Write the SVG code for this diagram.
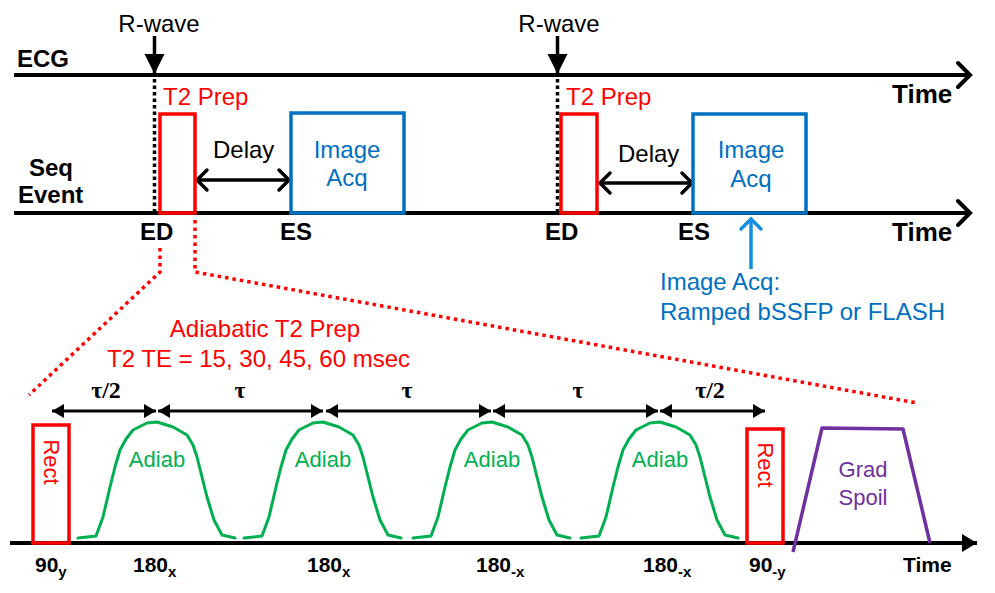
<svg xmlns="http://www.w3.org/2000/svg" width="995" height="593" viewBox="0 0 995 593">
<style>
text{font-family:"Liberation Sans",Arial,sans-serif;}
.b{font-weight:bold;fill:#000;}
.n{fill:#000;}
.red{fill:#FF0000;}
.blue{fill:#0070C0;}
.green{fill:#00B050;}
.purple{fill:#7030A0;}
.tau{font-family:"Liberation Serif","Times New Roman",serif;font-weight:bold;font-size:24px;}
.axis{stroke:#000;stroke-width:4;fill:none;}
.dotk{stroke:#000;stroke-width:3.5;stroke-dasharray:3.5,3;fill:none;}
.dotr{stroke:#FF0000;stroke-width:3.5;stroke-dasharray:3.5,4;fill:none;}
.rrect{stroke:#FF0000;stroke-width:3.5;fill:none;}
.brect{stroke:#0070C0;stroke-width:3.5;fill:none;}
.pulse{stroke:#00B050;stroke-width:3;fill:none;stroke-linejoin:round;stroke-linecap:round;}
</style>
<defs>
<marker id="chev" markerUnits="userSpaceOnUse" markerWidth="30" markerHeight="30" viewBox="-15 -15 30 30" refX="0" refY="0" orient="auto-start-reverse" overflow="visible">
<path d="M-12,-12 L0,0 L-12,12" stroke="#000" stroke-width="4" fill="none" stroke-linecap="round"/>
</marker>
<marker id="chev3" markerUnits="userSpaceOnUse" markerWidth="30" markerHeight="30" viewBox="-15 -15 30 30" refX="0" refY="0" orient="auto-start-reverse" overflow="visible">
<path d="M-10,-10 L0,0 L-10,10" stroke="#000" stroke-width="3.5" fill="none" stroke-linecap="round"/>
</marker>
<marker id="chevb" markerUnits="userSpaceOnUse" markerWidth="30" markerHeight="30" viewBox="-15 -15 30 30" refX="0" refY="0" orient="auto-start-reverse" overflow="visible">
<path d="M-10,-10 L0,0 L-10,10" stroke="#1290DD" stroke-width="3.5" fill="none" stroke-linecap="round"/>
</marker>
<marker id="tri" markerUnits="userSpaceOnUse" markerWidth="30" markerHeight="30" viewBox="-15 -15 30 30" refX="0" refY="0" orient="auto-start-reverse" overflow="visible">
<path d="M-12,-7 L0,0 L-12,7 Z" fill="#000"/>
</marker>
<marker id="tribig" markerUnits="userSpaceOnUse" markerWidth="30" markerHeight="30" viewBox="-15 -15 30 30" refX="0" refY="0" orient="auto" overflow="visible">
<path d="M-20,-10 L0,0 L-20,10 Z" fill="#000"/>
</marker>
<marker id="triax" markerUnits="userSpaceOnUse" markerWidth="30" markerHeight="30" viewBox="-15 -15 30 30" refX="0" refY="0" orient="auto" overflow="visible">
<path d="M-15,-9 L0,0 L-15,9 Z" fill="#000"/>
</marker>
<path id="adiab" class="pulse" d="M-79,116 L-61,114 L-54,95 L-47,65 L-42,45 L-37,28 L-31,17 L-24,8 L-10,1 L0,0 L16,5 L30,13 L36,23 L40,35 L45,55 L50,75 L57,98 L65,113 L78,116"/>
</defs>

<g id="connectors">
<line class="axis" x1="14" y1="75" x2="970" y2="75" marker-end="url(#chev)"/>
<line class="axis" x1="14" y1="213" x2="970" y2="213" marker-end="url(#chev)"/>
<line class="axis" x1="10" y1="543" x2="977" y2="543" marker-end="url(#triax)"/>
<line x1="154.5" y1="36" x2="154.5" y2="74" stroke="#000" stroke-width="3.5" marker-end="url(#tribig)"/>
<line x1="557.5" y1="36" x2="557.5" y2="74" stroke="#000" stroke-width="3.5" marker-end="url(#tribig)"/>
<line class="dotk" x1="154.5" y1="79" x2="154.5" y2="213"/>
<line class="dotk" x1="557.5" y1="79" x2="557.5" y2="213"/>
<line x1="197" y1="180" x2="289" y2="180" stroke="#000" stroke-width="3.5" marker-start="url(#chev3)" marker-end="url(#chev3)"/>
<line x1="600" y1="183" x2="692" y2="183" stroke="#000" stroke-width="3.5" marker-start="url(#chev3)" marker-end="url(#chev3)"/>
<line x1="751" y1="269" x2="751" y2="219" stroke="#1290DD" stroke-width="3.5" marker-end="url(#chevb)"/>
<polyline class="dotr" points="160,248 160,272 29,395"/>
<polyline class="dotr" points="195,220 195,272 917,403"/>
<line x1="52" y1="411" x2="156" y2="411" stroke="#000" stroke-width="3" marker-start="url(#tri)" marker-end="url(#tri)"/>
<line x1="158" y1="411" x2="323" y2="411" stroke="#000" stroke-width="3" marker-start="url(#tri)" marker-end="url(#tri)"/>
<line x1="326" y1="411" x2="491" y2="411" stroke="#000" stroke-width="3" marker-start="url(#tri)" marker-end="url(#tri)"/>
<line x1="493" y1="411" x2="658" y2="411" stroke="#000" stroke-width="3" marker-start="url(#tri)" marker-end="url(#tri)"/>
<line x1="660" y1="411" x2="765" y2="411" stroke="#000" stroke-width="3" marker-start="url(#tri)" marker-end="url(#tri)"/>
</g>

<g id="labels-axes">
<text class="b" x="17" y="67" font-size="24">ECG</text>
<text class="b" x="29" y="176" font-size="24">Seq</text>
<text class="b" x="18" y="203" font-size="24">Event</text>
<text class="b" x="892" y="103" font-size="26">Time</text>
<text class="b" x="892" y="241" font-size="26">Time</text>
<text class="n" x="159" y="32" font-size="24" text-anchor="middle">R-wave</text>
<text class="n" x="559" y="32" font-size="24" text-anchor="middle">R-wave</text>
<text class="b" x="140" y="240" font-size="24">ED</text>
<text class="b" x="280" y="240" font-size="24">ES</text>
<text class="b" x="545" y="240" font-size="24">ED</text>
<text class="b" x="678" y="240" font-size="24">ES</text>
<text class="n" x="213" y="158" font-size="24">Delay</text>
<text class="n" x="618" y="162" font-size="24">Delay</text>
</g>

<g id="t2prep1">
<rect class="rrect" x="160" y="114" width="35" height="99"/>
<text class="red" x="163" y="105" font-size="24">T2 Prep</text>
</g>
<g id="imgacq1">
<rect class="brect" x="291" y="113" width="113" height="100"/>
<text class="blue" x="347" y="158" font-size="24" text-anchor="middle">Image</text>
<text class="blue" x="347" y="186" font-size="24" text-anchor="middle">Acq</text>
</g>
<g id="t2prep2">
<rect class="rrect" x="561" y="114" width="36" height="99"/>
<text class="red" x="566" y="105" font-size="24">T2 Prep</text>
</g>
<g id="imgacq2">
<rect class="brect" x="693" y="114" width="113" height="99"/>
<text class="blue" x="751" y="158" font-size="24" text-anchor="middle">Image</text>
<text class="blue" x="751" y="187" font-size="24" text-anchor="middle">Acq</text>
</g>
<g id="imgacq-note">
<text class="blue" x="660" y="290" font-size="24">Image Acq:</text>
<text class="blue" x="660" y="320" font-size="24">Ramped bSSFP or FLASH</text>
</g>
<g id="adiabatic-title">
<text class="red" x="265" y="337" font-size="24" text-anchor="middle">Adiabatic T2 Prep</text>
<text class="red" x="107" y="367" font-size="24">T2 TE = 15, 30, 45, 60 msec</text>
</g>

<g id="tau-labels">
<text class="tau" x="106" y="398" text-anchor="middle">τ/2</text>
<text class="tau" x="240" y="398" text-anchor="middle">τ</text>
<text class="tau" x="407" y="398" text-anchor="middle">τ</text>
<text class="tau" x="578" y="398" text-anchor="middle">τ</text>
<text class="tau" x="710" y="398" text-anchor="middle">τ/2</text>
</g>

<g id="rect1">
<rect class="rrect" x="33" y="425" width="36" height="118"/>
<text class="red" font-size="22" text-anchor="middle" transform="translate(44,462) rotate(90)">Rect</text>
</g>
<g id="adiab1"><use href="#adiab" x="157" y="422"/><text class="green" x="157" y="467" font-size="22" text-anchor="middle">Adiab</text></g>
<g id="adiab2"><use href="#adiab" x="323" y="422"/><text class="green" x="323" y="467" font-size="22" text-anchor="middle">Adiab</text></g>
<g id="adiab3"><use href="#adiab" x="492" y="422"/><text class="green" x="492" y="467" font-size="22" text-anchor="middle">Adiab</text></g>
<g id="adiab4"><use href="#adiab" x="660" y="422"/><text class="green" x="660" y="467" font-size="22" text-anchor="middle">Adiab</text></g>
<g id="rect2">
<rect class="rrect" x="747" y="429" width="36" height="114"/>
<text class="red" font-size="22" text-anchor="middle" transform="translate(758,465) rotate(90)">Rect</text>
</g>
<g id="gradspoil">
<polyline points="793,552 822,428 903,429 930,543" stroke="#7030A0" stroke-width="3.5" fill="none" stroke-linejoin="round"/>
<text class="purple" x="863" y="477" font-size="22" text-anchor="middle">Grad</text>
<text class="purple" x="863" y="505" font-size="22" text-anchor="middle">Spoil</text>
</g>

<g id="pulse-labels">
<text class="b" x="35" y="572" font-size="21">90<tspan font-size="15" dy="5">y</tspan></text>
<text class="b" x="133" y="572" font-size="21">180<tspan font-size="15" dy="5">x</tspan></text>
<text class="b" x="307" y="572" font-size="21">180<tspan font-size="15" dy="5">x</tspan></text>
<text class="b" x="476" y="572" font-size="21">180<tspan font-size="15" dy="5">-x</tspan></text>
<text class="b" x="643" y="572" font-size="21">180<tspan font-size="15" dy="5">-x</tspan></text>
<text class="b" x="749" y="572" font-size="21">90<tspan font-size="15" dy="5">-y</tspan></text>
<text class="b" x="903" y="572" font-size="21">Time</text>
</g>
</svg>
